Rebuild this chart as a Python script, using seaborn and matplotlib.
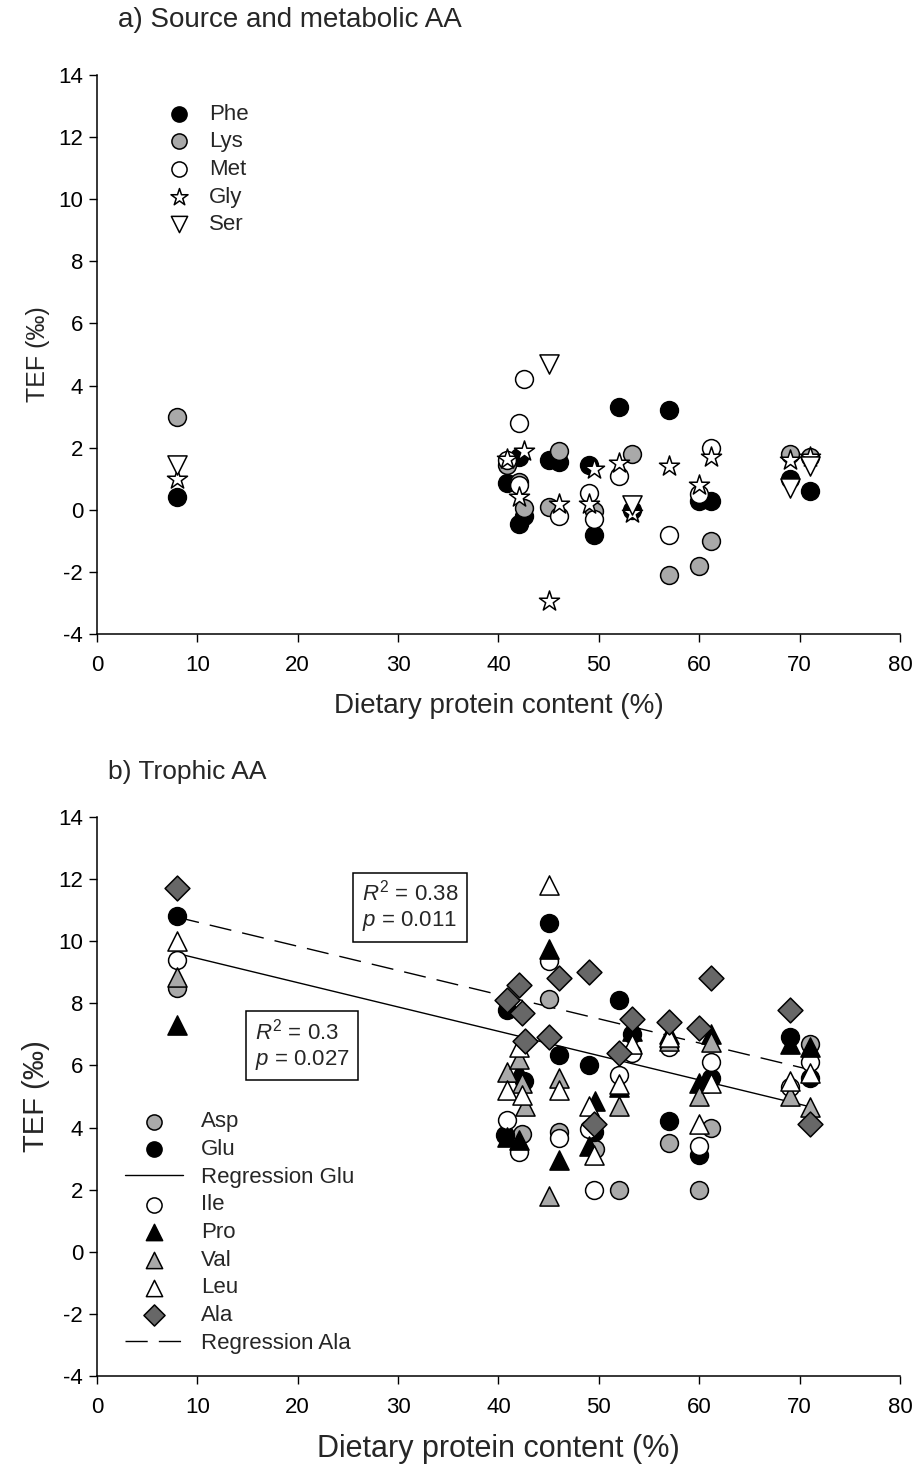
import numpy as np
import pandas as pd
import matplotlib
matplotlib.use("Agg")
import matplotlib.pyplot as plt
import seaborn as sns

# ---------------- data: panel a (source & metabolic AA) ----------------
phe_x = [8, 40.8, 42, 42, 42.5, 45, 46, 49, 49.5, 52, 53.3, 57, 60, 61.2, 69, 71]
phe_y = [0.4, 0.85, 1.7, -0.45, -0.2, 1.6, 1.55, 1.45, -0.8, 3.3, 0.0, 3.2, 0.3, 0.3, 1.0, 0.6]
lys_x = [8, 40.8, 42, 42.5, 45, 46, 49.5, 53.3, 57, 60, 61.2, 69, 71]
lys_y = [3.0, 1.45, 0.9, 0.05, 0.1, 1.9, -0.05, 1.8, -2.1, -1.8, -1.0, 1.8, 1.7]
met_x = [40.8, 42, 42, 42.5, 46, 49, 49.5, 52, 57, 60, 61.2]
met_y = [1.6, 2.8, 0.8, 4.2, -0.2, 0.55, -0.3, 1.1, -0.8, 0.5, 2.0]
gly_x = [8, 40.8, 42, 42.5, 45, 46, 49, 49.5, 52, 53.3, 57, 60, 61.2, 69, 71]
gly_y = [1.0, 1.65, 0.4, 1.9, -2.95, 0.2, 0.2, 1.3, 1.5, -0.1, 1.4, 0.8, 1.7, 1.6, 1.7]
ser_x = [8, 45, 53.3, 69, 71]
ser_y = [1.45, 4.7, 0.15, 0.7, 1.4]

# ---------------- data: panel b (trophic AA) ----------------
asp_x = [8, 42.3, 45, 46, 49.6, 52, 57, 60, 61.2, 71]
asp_y = [8.5, 3.8, 8.15, 3.85, 3.3, 2.0, 3.5, 2.0, 4.0, 6.7]
glu_x = [8, 40.8, 40.6, 42.5, 45, 46, 49, 49.5, 52, 53.3, 57, 60, 61.2, 69, 71]
glu_y = [10.8, 7.8, 3.75, 5.5, 10.6, 6.35, 6.0, 3.85, 8.1, 7.0, 4.2, 3.1, 5.6, 6.9, 5.6]
ile_x = [8, 40.8, 42, 45, 46, 49, 49.5, 52, 53.3, 57, 60, 61.2, 69, 71]
ile_y = [9.4, 4.25, 3.2, 9.35, 3.65, 3.95, 2.0, 5.7, 6.4, 6.6, 3.4, 6.1, 5.3, 6.1]
pro_x = [8, 40.8, 42, 42, 45, 46, 49, 49.6, 52, 53.3, 57, 60, 61.2, 69, 71]
pro_y = [7.3, 3.7, 3.6, 5.8, 9.75, 2.95, 3.4, 4.85, 5.3, 7.1, 7.0, 5.45, 7.0, 6.7, 6.6]
val_x = [8, 40.8, 42, 42.3, 42.6, 45, 46, 52, 57, 60, 61.2, 69, 71]
val_y = [8.85, 5.8, 6.2, 5.45, 4.7, 1.8, 5.6, 4.7, 6.8, 5.0, 6.75, 5.0, 4.65]
leu_x = [8, 40.8, 42, 42.3, 45, 46, 49, 49.5, 52, 53.3, 57, 60, 61.2, 69, 71]
leu_y = [10.0, 5.2, 6.6, 5.05, 11.8, 5.2, 4.7, 3.1, 5.4, 6.7, 6.9, 4.1, 5.45, 5.5, 5.75]
ala_x = [8, 40.8, 42, 42.3, 42.6, 45, 46, 49, 49.5, 52, 53.3, 57, 60, 61.2, 69, 71]
ala_y = [11.7, 8.1, 8.6, 7.7, 6.8, 6.9, 8.8, 9.0, 4.1, 6.4, 7.5, 7.4, 7.2, 8.8, 7.8, 4.1]

xticks = [0, 10, 20, 30, 40, 50, 60, 70, 80]
yticks = [-4, -2, 0, 2, 4, 6, 8, 10, 12, 14]

# ---------------- style ----------------
sns.set_style("ticks")
plt.rcParams["font.family"] = ["Liberation Sans", "DejaVu Sans"]
plt.rcParams["mathtext.fontset"] = "custom"
plt.rcParams["mathtext.rm"] = "Liberation Sans"
plt.rcParams["mathtext.it"] = "Liberation Sans:italic"
plt.rcParams["axes.unicode_minus"] = False

GRAY = "#a9a9a9"
DGRAY = "#676767"
S = 165

fig = plt.figure(figsize=(9.15, 14.66), dpi=100)
ax1 = fig.add_axes([0.106, 0.5675, 0.8776, 0.3813])
ax2 = fig.add_axes([0.106, 0.0614, 0.8776, 0.3813])


def scat(ax, x, y, marker, fc, label, s=S):
    sns.scatterplot(x=x, y=y, ax=ax, marker=marker, color=fc, edgecolor="black",
                    linewidth=1.1, s=s, label=label, zorder=3)


# panel a
scat(ax1, phe_x, phe_y, "o", "black", "Phe")
scat(ax1, lys_x, lys_y, "o", GRAY, "Lys")
scat(ax1, met_x, met_y, "o", "white", "Met")
scat(ax1, gly_x, gly_y, "*", "white", "Gly", s=230)
scat(ax1, ser_x, ser_y, "v", "white", "Ser", s=190)

# panel b
scat(ax2, asp_x, asp_y, "o", GRAY, "Asp")
scat(ax2, glu_x, glu_y, "o", "black", "Glu")
sns.regplot(x=glu_x, y=glu_y, ax=ax2, scatter=False, ci=None, truncate=True,
            color="black", label="Regression Glu", line_kws=dict(lw=1.0, zorder=2))
scat(ax2, ile_x, ile_y, "o", "white", "Ile")
scat(ax2, pro_x, pro_y, "^", "black", "Pro", s=190)
scat(ax2, val_x, val_y, "^", GRAY, "Val", s=190)
scat(ax2, leu_x, leu_y, "^", "white", "Leu", s=190)
scat(ax2, ala_x, ala_y, "D", DGRAY, "Ala", s=160)
sns.regplot(x=ala_x, y=ala_y, ax=ax2, scatter=False, ci=None, truncate=True,
            color="black", label="Regression Ala",
            line_kws=dict(lw=1.0, ls=(0, (16, 8)), zorder=2))

for ax, xl_size, yl_size in [(ax1, 20, 18), (ax2, 22, 21)]:
    ax.set_xlim(0, 80)
    ax.set_ylim(-4, 14)
    ax.set_xticks(xticks)
    ax.set_yticks(yticks)
    ax.tick_params(axis="both", direction="out", length=6, width=1, labelsize=16,
                   colors="black", pad=4)
    ax.tick_params(axis="x", pad=9)
    for sp in ["top", "right"]:
        ax.spines[sp].set_visible(False)
    for sp in ["left", "bottom"]:
        ax.spines[sp].set_linewidth(1.1)
        ax.spines[sp].set_color("black")
    ax.set_xlabel("Dietary protein content (%)", fontsize=xl_size, labelpad=12)
    ax.set_ylabel("TEF (‰)", fontsize=yl_size, labelpad=6)

ax1.text(0.026, 1.098, "a) Source and metabolic AA", transform=ax1.transAxes,
         fontsize=20, ha="left", va="center")
ax2.text(0.014, 1.08, "b) Trophic AA", transform=ax2.transAxes,
         fontsize=19, ha="left", va="center")

ax1.legend(loc="upper left", bbox_to_anchor=(0.074, 0.965), frameon=False,
           fontsize=16, handlelength=1.2, handletextpad=0.75, labelspacing=0.3,
           markerscale=0.85, borderaxespad=0)
ax2.legend(loc="lower left", bbox_to_anchor=(0.024, 0.024), frameon=False,
           fontsize=16, handlelength=2.6, handletextpad=0.8, labelspacing=0.3,
           markerscale=0.85, borderaxespad=0)

box = dict(boxstyle="square,pad=0.4", fc="white", ec="black", lw=1.1)
ax2.text(26.4, 11.13, "$\\mathit{R}^2$ = 0.38\n$\\mathit{p}$ = 0.011", fontsize=16,
         ha="left", va="center", bbox=box, zorder=5)
ax2.text(15.7, 6.66, "$\\mathit{R}^2$ = 0.3\n$\\mathit{p}$ = 0.027", fontsize=16,
         ha="left", va="center", bbox=box, zorder=5)

fig.savefig("out.png", dpi=100)
